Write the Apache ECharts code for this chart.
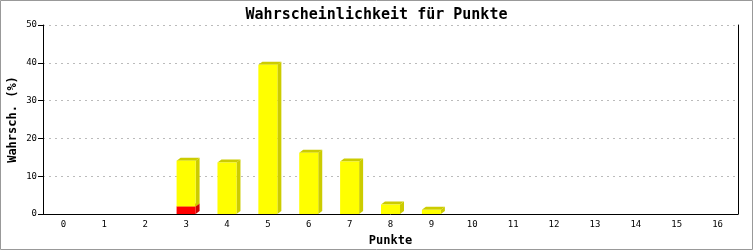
<!DOCTYPE html>
<html>
<head>
<meta charset="utf-8">
<script src="https://cdn.jsdelivr.net/npm/echarts@6/dist/echarts.min.js"></script>
<style>html,body{margin:0;padding:0;background:#fff}#c{width:753px;height:250px}</style>
</head>
<body>
<div id="c"></div>
<script>
const categories = ['0','1','2','3','4','5','6','7','8','9','10','11','12','13','14','15','16'];
const totalPct = [0, 0, 0, 14.1, 13.6, 39.5, 16.2, 13.9, 2.5, 1.1, 0, 0, 0, 0, 0, 0, 0];
const redPct   = [0, 0, 0, 2.0, 0, 0, 0, 0, 0, 0, 0, 0, 0, 0, 0, 0, 0];
const yTicks = [0, 10, 20, 30, 40, 50];

const segs = [];
categories.forEach((c, i) => {
  if (redPct[i] > 0) segs.push([i, 0, redPct[i], 1]);
  if (totalPct[i] > redPct[i]) segs.push([i, redPct[i], totalPct[i], 0]);
});

const FONT = 'DejaVu Sans Mono';
const chart = echarts.init(document.getElementById('c'), null, {renderer: 'canvas'});
chart.setOption({
  animation: false,
  backgroundColor: '#fff',
  title: {
    text: 'Wahrscheinlichkeit für Punkte',
    left: 'center', top: 3,
    textStyle: {fontFamily: FONT, fontWeight: 'bold', fontSize: 15, color: '#000'}
  },
  graphic: [{
    type: 'rect', silent: true, z: 100,
    shape: {x: 0.5, y: 0.5, width: 752, height: 249},
    style: {fill: 'none', stroke: '#999', lineWidth: 1}
  }],
  grid: {left: 43, right: 15, top: 25, bottom: 36, containLabel: false, outerBoundsMode: 'none'},
  xAxis: {
    type: 'category', data: categories,
    name: 'Punkte', nameLocation: 'middle', nameGap: 21, nameMoveOverlap: false,
    nameTextStyle: {fontFamily: FONT, fontWeight: 'bold', fontSize: 12, color: '#000'},
    axisLine: {lineStyle: {color: '#000', width: 1}},
    axisTick: {show: false},
    axisLabel: {interval: 0, fontFamily: FONT, fontSize: 9, color: '#000', margin: 6},
    splitLine: {show: false}
  },
  yAxis: [{
    type: 'value', min: yTicks[0], max: yTicks[yTicks.length - 1], interval: 10,
    name: 'Wahrsch. (%)', nameLocation: 'middle', nameGap: 24, nameMoveOverlap: false,
    nameTextStyle: {fontFamily: FONT, fontWeight: 'bold', fontSize: 12, color: '#000'},
    axisLine: {show: true, lineStyle: {color: '#000', width: 1}},
    axisTick: {show: true, length: 5, lineStyle: {color: '#000'}},
    axisLabel: {fontFamily: FONT, fontSize: 9, color: '#000', margin: 6},
    splitLine: {show: true, lineStyle: {color: '#bbb', type: [2, 4], width: 1}}
  }, {
    type: 'value', min: 0, max: 50, interval: 10, position: 'right',
    axisLine: {show: true, lineStyle: {color: '#000', width: 1}},
    axisTick: {show: false}, axisLabel: {show: false}, splitLine: {show: false}
  }],
  series: [{
    type: 'custom',
    data: segs,
    encode: {x: 0, y: [1, 2]},
    z: 3,
    renderItem: function (params, api) {
      const i = api.value(0), lo = api.value(1), hi = api.value(2), red = api.value(3);
      const p0 = api.coord([i, lo]);
      const p1 = api.coord([i, hi]);
      const w = api.size([1, 0])[0] * 0.465;
      const xl = p0[0] - w / 2, xr = p0[0] + w / 2;
      const dx = 4, dy = 3;
      const front = red ? '#ff0000' : '#ffff00';
      const side = red ? '#cc0000' : '#cccc00';
      return {
        type: 'group',
        children: [
          {type: 'polygon', shape: {points: [[xr, p0[1]], [xr, p1[1]], [xr + dx, p1[1] - dy], [xr + dx, p0[1] - dy]]}, style: {fill: side}},
          {type: 'polygon', shape: {points: [[xl, p1[1]], [xl + dx, p1[1] - dy], [xr + dx, p1[1] - dy], [xr, p1[1]]]}, style: {fill: side}},
          {type: 'rect', shape: {x: xl, y: p1[1], width: w, height: p0[1] - p1[1]}, style: {fill: front}}
        ]
      };
    }
  }]
});
</script>
</body>
</html>
